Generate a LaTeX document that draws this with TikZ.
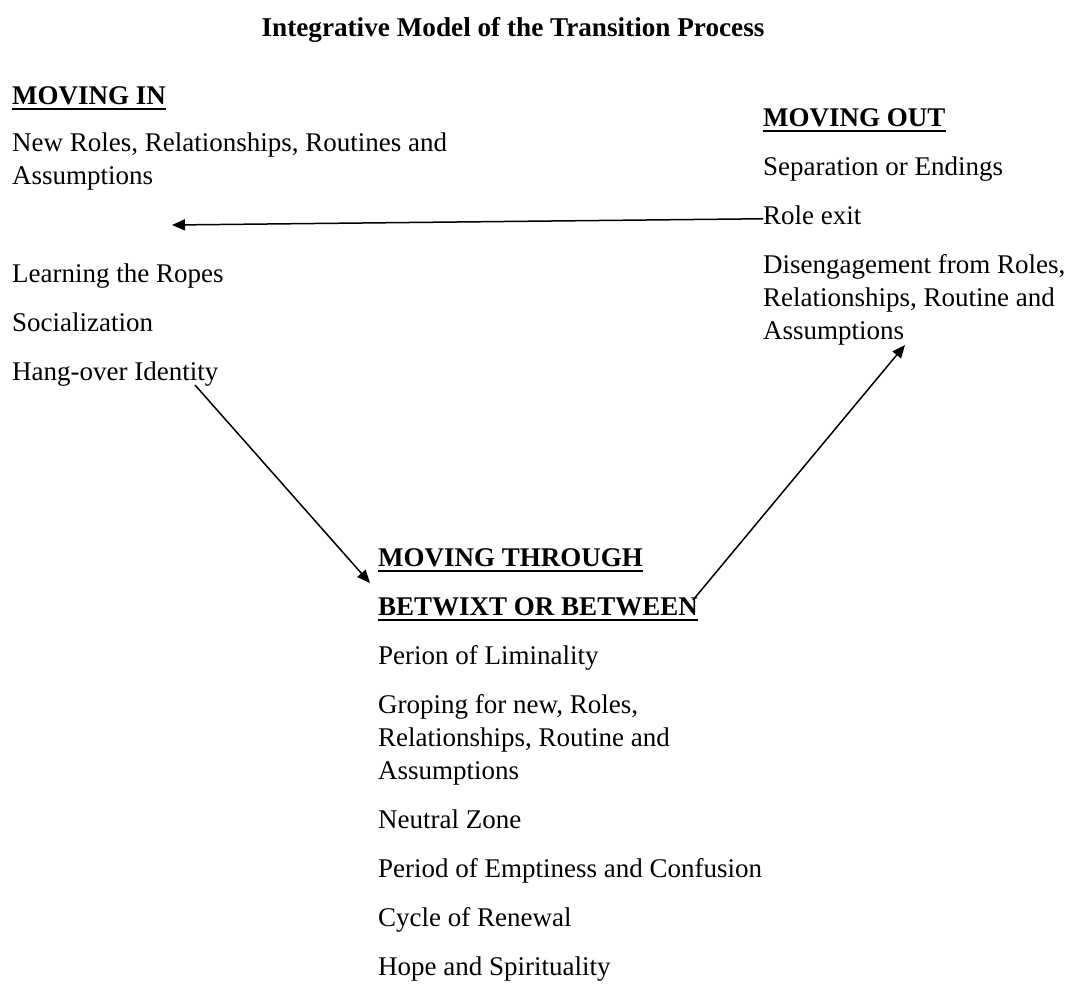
\documentclass[tikz,border=0pt]{standalone}
\usepackage{fontspec}
\setmainfont{Liberation Serif}
\usetikzlibrary{arrows.meta}
\begin{document}
\begin{tikzpicture}[x=1pt,y=-1pt,
  txt/.style={anchor=base west,inner sep=0pt,font=\fontsize{27}{33}\selectfont},
  head/.style={txt,font=\fontsize{27}{33}\selectfont\bfseries},
  title/.style={anchor=base,inner sep=0pt,font=\fontsize{27.2}{33}\selectfont\bfseries},
  uline/.style={line width=2.8pt},
  flow/.style={line width=1.5pt,-{Triangle[length=13pt,width=11pt]}}]
\useasboundingbox (0,0) rectangle (1075,983);

% title
\node[title] (title) at (513,36) {Integrative Model of the Transition Process};

% moving in
\node[head] (in) at (12,104) {MOVING IN};
\node[txt] (in1) at (12,151) {New Roles, Relationships, Routines and};
\node[txt] (in1b) at (12,184) {Assumptions};
\node[txt] (in2) at (12,282) {Learning the Ropes};
\node[txt] (in3) at (12,331) {Socialization};
\node[txt] (in4) at (12,380) {Hang-over Identity};

% moving out
\node[head] (out) at (763,126) {MOVING OUT};
\node[txt] (out1) at (763,175) {Separation or Endings};
\node[txt] (out2) at (763,224) {Role exit};
\node[txt] (out3) at (763,273) {Disengagement from Roles,};
\node[txt] (out3b) at (763,306) {Relationships, Routine and};
\node[txt] (out3c) at (763,339) {Assumptions};

% moving through
\node[head] (thr) at (378,566) {MOVING THROUGH};
\node[head] (btw) at (378,615) {BETWIXT OR BETWEEN};
\node[txt] (t1) at (378,664) {Perion of Liminality};
\node[txt] (t2) at (378,713) {Groping for new, Roles,};
\node[txt] (t2b) at (378,746) {Relationships, Routine and};
\node[txt] (t2c) at (378,779) {Assumptions};
\node[txt] (t3) at (378,828) {Neutral Zone};
\node[txt] (t4) at (378,877) {Period of Emptiness and Confusion};
\node[txt] (t5) at (378,926) {Cycle of Renewal};
\node[txt] (t6) at (378,975) {Hope and Spirituality};

% underlines of the headings
\foreach \h in {in,out,thr,btw}
  \draw[uline] ([yshift=-5pt]\h.base west) -- ([yshift=-5pt]\h.base east);

% connectors
\coordinate (inEnd) at (172,225);
\coordinate (hangStart) at (195,385);
\coordinate (thrEnd) at (370,583);
\coordinate (btwStart) at (693,600);
\coordinate (outEnd) at (905,345);
\draw[flow] ([yshift=-4pt]out2.west) -- (inEnd);
\draw[flow] (hangStart) -- (thrEnd);
\draw[flow] (btwStart) -- (outEnd);
\end{tikzpicture}
\end{document}
